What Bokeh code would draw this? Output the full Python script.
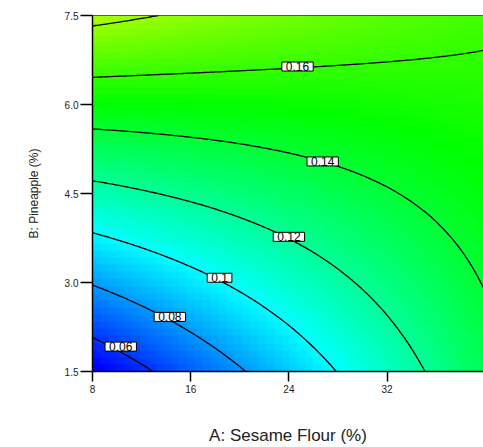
import numpy as np
from bokeh.plotting import figure
from bokeh.models import FixedTicker, NumeralTickFormatter, Label, Range1d
from bokeh.embed import file_html
from bokeh.resources import INLINE

# ---- data -----------------------------------------------------------------
# contour levels and (A, B) points
levels = [0.06, 0.08, 0.10, 0.12, 0.14, 0.16, 0.18]
trace_A = [
    [8.0, 10.3, 12.6],
    [8.0, 14.3, 20.1],
    [8.0, 18.4, 27.6],
    [8.0, 24.0, 27.4, 35.2],
    [8.0, 26.8, 35.5, 40.0],
    [8.0, 24.7, 40.0],
    [8.0, 13.1],
]
trace_B = [
    [2.07, 1.92, 1.50],
    [2.93, 2.42, 1.50],
    [3.82, 3.08, 1.50],
    [4.69, 3.77, 3.25, 1.50],
    [5.57, 5.04, 4.05, 3.01],
    [6.46, 6.64, 6.86],
    [7.33, 7.50],
]
label_text = ["0.06", "0.08", "0.1", "0.12", "0.14", "0.16"]
label_A = [10.3, 14.3, 18.35, 24.0, 26.75, 24.7]
label_B = [1.92, 2.42, 3.08, 3.77, 5.04, 6.64]

x_ticks = [8, 16, 24, 32, 40]
y_ticks = [1.5, 3.0, 4.5, 6.0, 7.5]

# colour stops of the response colour scale
cmap_vals = [0.05, 0.10, 0.15, 0.20]
cmap_r = [0, 0, 0, 255]
cmap_g = [0, 255, 255, 255]
cmap_b = [255, 255, 0, 0]

# ---- quadratic response surface fitted to the traced contours --------------
A_all, B_all, Z_all = [], [], []
for lev, a_list, b_list in zip(levels, trace_A, trace_B):
    A_all += a_list
    B_all += b_list
    Z_all += [lev] * len(a_list)
A_all = np.array(A_all); B_all = np.array(B_all); Z_all = np.array(Z_all)


def design(a, b):
    return np.stack([np.ones_like(a), a, b, a * b, a * a, b * b], axis=-1)


coef, *_ = np.linalg.lstsq(design(A_all, B_all), Z_all, rcond=None)


def model(a, b):
    return design(a, b) @ coef


# ---- figure ----------------------------------------------------------------
p = figure(width=483, height=447, output_backend="svg", toolbar_location=None,
           x_range=Range1d(8, 39.85), y_range=Range1d(1.5, 7.5),
           min_border_left=92, min_border_right=0, min_border_top=15,
           min_border_bottom=75)
p.grid.visible = False
p.background_fill_color = "white"
p.outline_line_color = "#333333"
p.outline_line_width = 1

# coloured cells
n = 50
xc = 8 + (np.arange(n) + 0.5) * 32 / n
yc = 1.5 + (np.arange(n) + 0.5) * 6 / n
XC, YC = np.meshgrid(xc, yc)
Zc = model(XC, YC)
img = np.empty((n, n), dtype=np.uint32)
view = img.view(dtype=np.uint8).reshape((n, n, 4))
view[:, :, 0] = np.interp(Zc, cmap_vals, cmap_r).astype(np.uint8)
view[:, :, 1] = np.interp(Zc, cmap_vals, cmap_g).astype(np.uint8)
view[:, :, 2] = np.interp(Zc, cmap_vals, cmap_b).astype(np.uint8)
view[:, :, 3] = 255
p.image_rgba(image=[img], x=8, y=1.5, dw=32, dh=6)

# contour lines
xf = np.linspace(8, 40, 240)
yf = np.linspace(1.5, 7.5, 240)
XF, YF = np.meshgrid(xf, yf)
ZF = model(XF, YF)
p.contour(xf, yf, ZF, levels, line_color="black", line_width=1.3)

# contour labels
for t, a, b in zip(label_text, label_A, label_B):
    p.add_layout(Label(x=a, y=b, text=t, text_align="center", text_baseline="middle",
                       text_font="Liberation Sans", text_font_size="12px",
                       text_color="black", background_fill_color="white",
                       border_line_color="black", border_line_width=1,
                       padding=dict(left=4, right=4, top=0, bottom=0)))

# axes
for ax in (p.xaxis[0], p.yaxis[0]):
    ax.major_label_text_font = "Liberation Sans"
    ax.major_label_text_font_size = "10px"
    ax.major_label_text_color = "#222222"
    ax.axis_label_text_font = "Liberation Sans"
    ax.axis_label_text_font_style = "normal"
    ax.axis_label_text_color = "#222222"
    ax.minor_tick_line_color = None
    ax.major_tick_in = 0
    ax.major_tick_line_color = "black"
    ax.major_tick_line_width = 1.5
    ax.axis_line_color = "black"
    ax.axis_line_width = 1.5

p.xaxis.ticker = FixedTicker(ticks=x_ticks)
p.xaxis.formatter = NumeralTickFormatter(format="0")
p.xaxis.major_tick_out = 10
p.xaxis.major_label_standoff = 3
p.xaxis.axis_label = "A: Sesame Flour (%)"
p.xaxis.axis_label_text_font_size = "17px"
p.xaxis.axis_label_standoff = 30

p.yaxis.ticker = FixedTicker(ticks=y_ticks)
p.yaxis.formatter = NumeralTickFormatter(format="0.0")
p.yaxis.major_tick_out = 12
p.yaxis.major_label_standoff = 2
p.yaxis.axis_label = "B: Pineapple (%)"
p.yaxis.axis_label_text_font_size = "12px"
p.yaxis.axis_label_standoff = 21

# last x tick label sits at the window edge; keep it fully inside
p.add_layout(Label(x=x_ticks[-1], y=y_ticks[0], x_offset=-3, y_offset=-13, text="40",
                   text_align="right", text_baseline="top",
                   text_font="Liberation Sans", text_font_size="10px",
                   text_color="#222222"))

open("out.html", "w").write(file_html(p, INLINE))
